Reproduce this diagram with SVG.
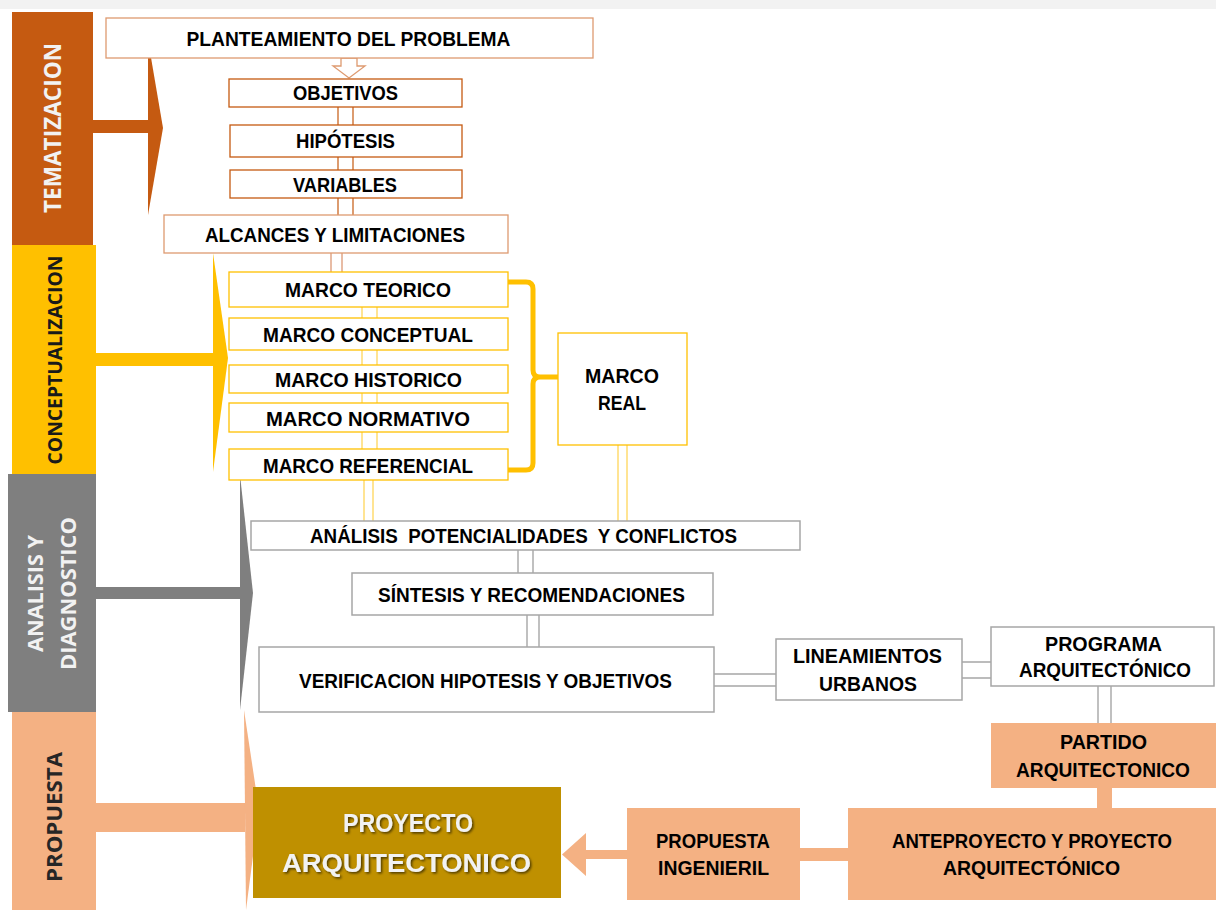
<svg xmlns="http://www.w3.org/2000/svg" width="1216" height="910" viewBox="0 0 1216 910">
<defs>
<style>
.bx{font-family:"Liberation Sans",Arial,sans-serif;font-weight:bold;font-size:20px;fill:#000;text-anchor:middle}
.side{font-family:"Open Sans","Liberation Sans",sans-serif;font-weight:bold;text-anchor:middle}
.ob{fill:#fff;stroke:#C55A11;stroke-width:1.3}
.ol{fill:#fff;stroke:#DE9A70;stroke-width:1.3}
.yb{fill:#fff;stroke:#FFC000;stroke-width:1.3}
.gb{fill:#fff;stroke:#A6A6A6;stroke-width:1.5}
.pb{fill:#F4B183}
.co{fill:none;stroke:#C55A11;stroke-width:1.2}
.col{fill:none;stroke:#D9906A;stroke-width:1.2}
.cy{fill:none;stroke:#FFD966;stroke-width:1.4}
.cg{fill:none;stroke:#A6A6A6;stroke-width:1.4}
</style>
<filter id="sh" x="-10%" y="-30%" width="130%" height="160%">
<feDropShadow dx="1.5" dy="1.5" stdDeviation="1" flood-color="#000" flood-opacity="0.6"/>
</filter>
</defs>
<rect x="0" y="0" width="1216" height="910" fill="#fff"/>
<rect x="0" y="0" width="1216" height="9" fill="#F2F2F2"/>

<!-- side bars -->
<g id="tematizacion">
<rect x="12" y="12" width="81" height="233" fill="#C55A11"/>
<rect x="92" y="120" width="57" height="13" fill="#C55A11"/>
<polygon points="148,40 163,128 148,215" fill="#C55A11"/>
<text class="side" font-size="24" fill="#F2F2F2" textLength="170" lengthAdjust="spacingAndGlyphs" transform="translate(61,128) rotate(-90)">TEMATIZACION</text>
</g>
<g id="conceptualizacion">
<rect x="12" y="245" width="84" height="229" fill="#FFC000"/>
<rect x="95" y="353" width="120" height="13" fill="#FFC000"/>
<polygon points="213,253 228,358 213,472" fill="#FFC000"/>
<text class="side" font-size="20" fill="#1A1A1A" textLength="209" lengthAdjust="spacingAndGlyphs" transform="translate(62,360) rotate(-90)">CONCEPTUALIZACION</text>
</g>
<g id="analisis">
<rect x="8" y="474" width="88" height="238" fill="#7F7F7F"/>
<rect x="95" y="587" width="146" height="12" fill="#7F7F7F"/>
<polygon points="240,475 253,593 240,710" fill="#7F7F7F"/>
<text class="side" font-size="21" fill="#F2F2F2" textLength="117" lengthAdjust="spacingAndGlyphs" transform="translate(43,593.5) rotate(-90)">ANALISIS Y</text>
<text class="side" font-size="21" fill="#F2F2F2" textLength="153" lengthAdjust="spacingAndGlyphs" transform="translate(76,593.5) rotate(-90)">DIAGNOSTICO</text>
</g>
<g id="propuesta">
<rect x="12" y="712" width="84" height="198" fill="#F4B183"/>
<rect x="95" y="803" width="150" height="29" fill="#F4B183"/>
<polygon points="244,710 259,810 246,910" fill="#F4B183"/>
<text class="side" font-size="22" fill="#262626" textLength="130" lengthAdjust="spacingAndGlyphs" transform="translate(62,817) rotate(-90)">PROPUESTA</text>
</g>

<!-- connectors -->
<g id="connectors">
<polygon points="341,58 357,58 357,66 365,66 349,78 333,66 341,66" fill="#fff" stroke="#DE9A70" stroke-width="1.3"/>
<path class="co" d="M338,107V125M353,107V125M338,157V170M353,157V170M338,198V215M353,198V215"/>
<path class="col" d="M331,253V272M342,253V272"/>
<path class="cy" d="M362,307V318M377,307V318M362,350V365M377,350V365M362,393V403M377,393V403M362,432V449M377,432V449M364,480V521M373,480V521M618,445V521M627,445V521"/>
<path d="M508,282H526Q533,282 533,289V370Q533,377 540,377H558M540,377Q533,377 533,384V463Q533,470 526,470H508" fill="none" stroke="#FFC000" stroke-width="5"/>
<path class="cg" d="M518,550V573M533,550V573M527,615V647M539,615V647M714,674H776M714,686H776M962,662H991M962,678H991M1098,686V723M1111,686V723"/>
<rect x="1097" y="787" width="15" height="22" fill="#F4B183"/>
<rect x="799" y="848" width="50" height="13" fill="#F4B183"/>
<polygon points="562,854.5 586,833 586,850 628,850 628,859 586,859 586,876" fill="#F4B183"/>
</g>

<!-- nodes -->
<g id="planteamiento"><rect class="ol" x="106" y="18" width="487" height="40"/><text class="bx" x="348.5" y="46" textLength="324" lengthAdjust="spacingAndGlyphs">PLANTEAMIENTO DEL PROBLEMA</text></g>
<g id="objetivos"><rect class="ob" x="229" y="79" width="233" height="28"/><text class="bx" x="345.5" y="100" textLength="105" lengthAdjust="spacingAndGlyphs">OBJETIVOS</text></g>
<g id="hipotesis"><rect class="ob" x="230" y="125" width="232" height="32"/><text class="bx" x="345.5" y="148" textLength="99" lengthAdjust="spacingAndGlyphs">HIPÓTESIS</text></g>
<g id="variables"><rect class="ob" x="230" y="170" width="232" height="28"/><text class="bx" x="345" y="192" textLength="104" lengthAdjust="spacingAndGlyphs">VARIABLES</text></g>
<g id="alcances"><rect class="ol" x="164" y="215" width="344" height="38"/><text class="bx" x="335" y="242" textLength="260" lengthAdjust="spacingAndGlyphs">ALCANCES Y LIMITACIONES</text></g>

<g id="marco-teorico"><rect class="yb" x="229" y="272" width="279" height="35"/><text class="bx" x="368" y="297" textLength="166" lengthAdjust="spacingAndGlyphs">MARCO TEORICO</text></g>
<g id="marco-conceptual"><rect class="yb" x="229" y="318" width="279" height="32"/><text class="bx" x="368" y="342" textLength="210" lengthAdjust="spacingAndGlyphs">MARCO CONCEPTUAL</text></g>
<g id="marco-historico"><rect class="yb" x="229" y="365" width="279" height="28"/><text class="bx" x="368.5" y="387" textLength="187" lengthAdjust="spacingAndGlyphs">MARCO HISTORICO</text></g>
<g id="marco-normativo"><rect class="yb" x="229" y="403" width="279" height="29"/><text class="bx" x="368" y="425.5" textLength="204" lengthAdjust="spacingAndGlyphs">MARCO NORMATIVO</text></g>
<g id="marco-referencial"><rect class="yb" x="229" y="449" width="279" height="31"/><text class="bx" x="368" y="473" textLength="210" lengthAdjust="spacingAndGlyphs">MARCO REFERENCIAL</text></g>
<g id="marco-real"><rect class="yb" x="558" y="333" width="129" height="112"/><text class="bx" x="622" y="383" textLength="74" lengthAdjust="spacingAndGlyphs">MARCO</text><text class="bx" x="622" y="410" textLength="48" lengthAdjust="spacingAndGlyphs">REAL</text></g>

<g id="analisis-potencialidades"><rect class="gb" x="251" y="521" width="549" height="29"/><text class="bx" x="523.5" y="543" textLength="427" lengthAdjust="spacingAndGlyphs" xml:space="preserve">ANÁLISIS  POTENCIALIDADES  Y CONFLICTOS</text></g>
<g id="sintesis"><rect class="gb" x="352" y="573" width="361" height="42"/><text class="bx" x="531.5" y="602" textLength="307" lengthAdjust="spacingAndGlyphs">SÍNTESIS Y RECOMENDACIONES</text></g>
<g id="verificacion"><rect class="gb" x="259" y="647" width="455" height="65"/><text class="bx" x="485.5" y="688" textLength="373" lengthAdjust="spacingAndGlyphs">VERIFICACION HIPOTESIS Y OBJETIVOS</text></g>
<g id="lineamientos"><rect class="gb" x="776" y="639" width="186" height="61"/><text class="bx" x="867.5" y="663" textLength="149" lengthAdjust="spacingAndGlyphs">LINEAMIENTOS</text><text class="bx" x="868" y="691" textLength="98" lengthAdjust="spacingAndGlyphs">URBANOS</text></g>
<g id="programa"><rect class="gb" x="991" y="627" width="223" height="59"/><text class="bx" x="1103.5" y="651" textLength="117" lengthAdjust="spacingAndGlyphs">PROGRAMA</text><text class="bx" x="1105" y="677" textLength="172" lengthAdjust="spacingAndGlyphs">ARQUITECTÓNICO</text></g>

<g id="partido"><rect class="pb" x="991" y="723" width="225" height="65"/><text class="bx" x="1103.5" y="749" textLength="87" lengthAdjust="spacingAndGlyphs">PARTIDO</text><text class="bx" x="1103" y="777" textLength="174" lengthAdjust="spacingAndGlyphs">ARQUITECTONICO</text></g>
<g id="anteproyecto"><rect class="pb" x="848" y="808" width="368" height="92"/><text class="bx" x="1032" y="848" textLength="280" lengthAdjust="spacingAndGlyphs">ANTEPROYECTO Y PROYECTO</text><text class="bx" x="1031.5" y="875" textLength="177" lengthAdjust="spacingAndGlyphs">ARQUITECTÓNICO</text></g>
<g id="propuesta-ingenieril"><rect class="pb" x="627" y="808" width="173" height="92"/><text class="bx" x="713" y="848" textLength="114" lengthAdjust="spacingAndGlyphs">PROPUESTA</text><text class="bx" x="713.5" y="875" textLength="111" lengthAdjust="spacingAndGlyphs">INGENIERIL</text></g>
<g id="proyecto-arquitectonico"><rect x="253" y="787" width="308" height="111" fill="#BF9000"/><text class="bx" x="408" y="832" style="fill:#F2F2F2;font-size:26px" filter="url(#sh)" textLength="130" lengthAdjust="spacingAndGlyphs">PROYECTO</text><text class="bx" x="406.5" y="872" style="fill:#F2F2F2;font-size:26px" filter="url(#sh)" textLength="249" lengthAdjust="spacingAndGlyphs">ARQUITECTONICO</text></g>
</svg>
